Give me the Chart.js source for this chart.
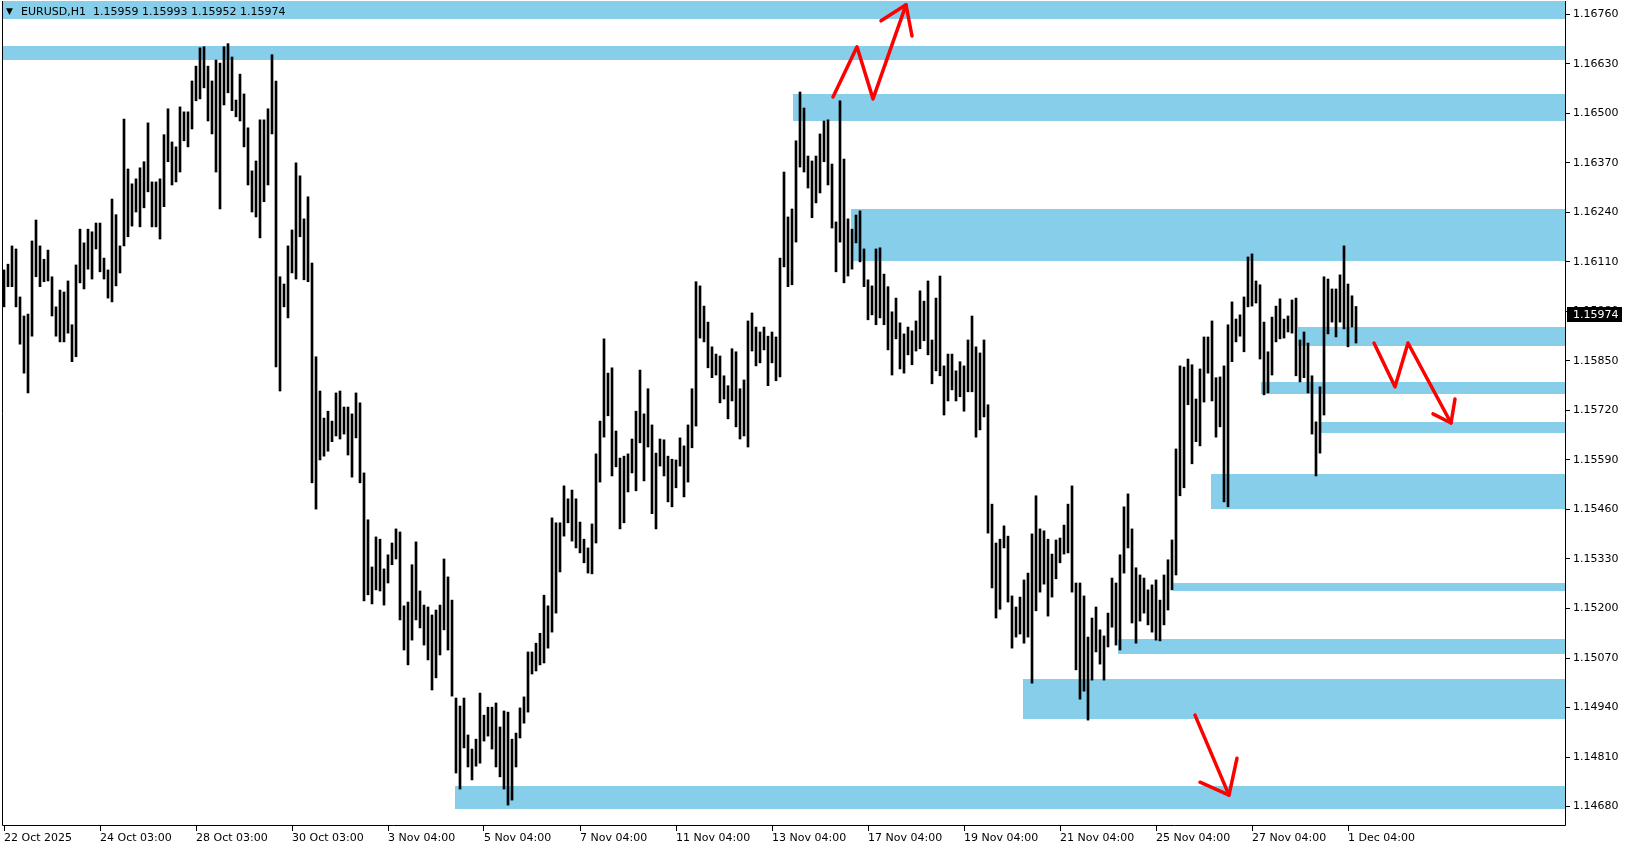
<!DOCTYPE html>
<html>
<head>
<meta charset="utf-8">
<script src="https://cdn.jsdelivr.net/npm/chart.js@4.4.1/dist/chart.umd.min.js"></script>
<style>
    html, body { margin: 0; padding: 0; background: #ffffff; }
    #wrap { width: 1629px; height: 850px; position: relative; }
</style>
</head>
<body>
<div id="wrap"><canvas id="priceChart"></canvas></div>
<script>
const symbolTitle = 'EURUSD,H1';
const lastBar = [1.15959, 1.15993, 1.15952, 1.15974]; // open, high, low, close

// one entry per two H1 bars, 22 Oct 2025 -> 1 Dec 2025
const barHigh = [
    1.16089, 1.16104, 1.16152, 1.16144, 1.16018, 1.15968, 1.15973, 1.16165, 1.16220, 1.16152,
    1.16117, 1.16141, 1.16071, 1.15992, 1.16036, 1.16031, 1.16060, 1.15945, 1.16102, 1.16196,
    1.16160, 1.16196, 1.16189, 1.16212, 1.16212, 1.16120, 1.16089, 1.16275, 1.16234, 1.16152,
    1.16485, 1.16354, 1.16315, 1.16328, 1.16357, 1.16373, 1.16475, 1.16320, 1.16320, 1.16328,
    1.16444, 1.16512, 1.16425, 1.16412, 1.16517, 1.16504, 1.16504, 1.16585, 1.16624, 1.16672,
    1.16675, 1.16624, 1.16585, 1.16640, 1.16632, 1.16675, 1.16683, 1.16648, 1.16535, 1.16603,
    1.16551, 1.16462, 1.16349, 1.16375, 1.16483, 1.16483, 1.16512, 1.16654, 1.16585, 1.16071,
    1.16052, 1.16152, 1.16194, 1.16370, 1.16336, 1.16223, 1.16281, 1.16107, 1.15861, 1.15771,
    1.15700, 1.15718, 1.15692, 1.15766, 1.15771, 1.15729, 1.15729, 1.15711, 1.15766, 1.15740,
    1.15556, 1.15433, 1.15309, 1.15388, 1.15382, 1.15304, 1.15341, 1.15372, 1.15409, 1.15401,
    1.15207, 1.15217, 1.15315, 1.15375, 1.15246, 1.15209, 1.15204, 1.15183, 1.15196, 1.15209,
    1.15330, 1.15283, 1.15222, 1.14965, 1.14944, 1.14965, 1.14868, 1.14831, 1.14857, 1.14978,
    1.14920, 1.14941, 1.14941, 1.14952, 1.14889, 1.14931, 1.14928, 1.14857, 1.14873, 1.14939,
    1.14968, 1.15086, 1.15086, 1.15109, 1.15135, 1.15235, 1.15207, 1.15438, 1.15425, 1.15425,
    1.15522, 1.15488, 1.15511, 1.15488, 1.15427, 1.15382, 1.15359, 1.15422, 1.15606, 1.15692,
    1.15908, 1.15818, 1.15832, 1.15666, 1.15595, 1.15600, 1.15606, 1.15645, 1.15718, 1.15826,
    1.15711, 1.15777, 1.15682, 1.15608, 1.15645, 1.15643, 1.15600, 1.15592, 1.15590, 1.15648,
    1.15627, 1.15682, 1.15777, 1.16058, 1.16047, 1.15994, 1.15952, 1.15887, 1.15868, 1.15863,
    1.15811, 1.15785, 1.15882, 1.15874, 1.15777, 1.15800, 1.15955, 1.15976, 1.15939, 1.15926,
    1.15939, 1.15915, 1.15926, 1.15913, 1.16120, 1.16346, 1.16228, 1.16249, 1.16428, 1.16556,
    1.16514, 1.16388, 1.16375, 1.16388, 1.16446, 1.16480, 1.16483, 1.16367, 1.16215, 1.16533,
    1.16380, 1.16223, 1.16196, 1.16233, 1.16244, 1.16144, 1.16063, 1.16047, 1.16144, 1.16147,
    1.16078, 1.16045, 1.15979, 1.16015, 1.15950, 1.15921, 1.15939, 1.15929, 1.15955, 1.16034,
    1.16007, 1.16060, 1.15905, 1.16015, 1.16073, 1.15837, 1.15868, 1.15868, 1.15824, 1.15848,
    1.15837, 1.15905, 1.15968, 1.15887, 1.15871, 1.15905, 1.15735, 1.15474, 1.15372, 1.15382,
    1.15417, 1.15390, 1.15233, 1.15204, 1.15230, 1.15275, 1.15293, 1.15396, 1.15496, 1.15409,
    1.15404, 1.15382, 1.15343, 1.15380, 1.15385, 1.15419, 1.15474, 1.15522, 1.15267, 1.15267,
    1.15233, 1.15125, 1.15175, 1.15204, 1.15144, 1.15128, 1.15188, 1.15280, 1.15267, 1.15341,
    1.15467, 1.15501, 1.15409, 1.15307, 1.15288, 1.15280, 1.15249, 1.15262, 1.15275, 1.15222,
    1.15288, 1.15328, 1.15380, 1.15619, 1.15837, 1.15834, 1.15855, 1.15840, 1.15750, 1.15829,
    1.15913, 1.15913, 1.15955, 1.15806, 1.15808, 1.15837, 1.15945, 1.16005, 1.15960, 1.15971,
    1.16018, 1.16123, 1.16131, 1.16060, 1.16050, 1.15952, 1.15874, 1.15965, 1.15994, 1.16013,
    1.15960, 1.15968, 1.16010, 1.16015, 1.15905, 1.15926, 1.15897, 1.15811, 1.15690, 1.15782,
    1.16071, 1.16065, 1.16039, 1.16039, 1.16076, 1.16152, 1.16052, 1.16021, 1.15993
];

const barLow = [
    1.15992, 1.16045, 1.16045, 1.15992, 1.15894, 1.15818, 1.15766, 1.15915, 1.16071, 1.16045,
    1.16058, 1.16060, 1.15968, 1.15915, 1.15900, 1.15900, 1.15923, 1.15848, 1.15861, 1.16055,
    1.16039, 1.16091, 1.16065, 1.16144, 1.16084, 1.16065, 1.16015, 1.16005, 1.16047, 1.16081,
    1.16152, 1.16176, 1.16204, 1.16241, 1.16202, 1.16252, 1.16294, 1.16202, 1.16202, 1.16170,
    1.16255, 1.16373, 1.16312, 1.16320, 1.16346, 1.16428, 1.16412, 1.16459, 1.16533, 1.16538,
    1.16567, 1.16480, 1.16446, 1.16346, 1.16249, 1.16522, 1.16554, 1.16507, 1.16491, 1.16480,
    1.16412, 1.16312, 1.16241, 1.16228, 1.16173, 1.16268, 1.16312, 1.16446, 1.15834, 1.15771,
    1.15992, 1.15963, 1.16081, 1.16065, 1.16176, 1.16063, 1.16058, 1.15530, 1.15461, 1.15590,
    1.15600, 1.15613, 1.15638, 1.15653, 1.15645, 1.15658, 1.15603, 1.15545, 1.15648, 1.15530,
    1.15220, 1.15236, 1.15212, 1.15249, 1.15246, 1.15209, 1.15267, 1.15315, 1.15330, 1.15170,
    1.15091, 1.15052, 1.15117, 1.15170, 1.15149, 1.15104, 1.15065, 1.14986, 1.15018, 1.15078,
    1.15144, 1.15091, 1.14970, 1.14768, 1.14726, 1.14834, 1.14784, 1.14750, 1.14786, 1.14794,
    1.14852, 1.14865, 1.14831, 1.14784, 1.14758, 1.14726, 1.14684, 1.14697, 1.14784, 1.14860,
    1.14899, 1.14928, 1.15028, 1.15036, 1.15052, 1.15057, 1.15096, 1.15138, 1.15188, 1.15296,
    1.15390, 1.15425, 1.15377, 1.15359, 1.15346, 1.15320, 1.15293, 1.15291, 1.15372, 1.15532,
    1.15650, 1.15706, 1.15548, 1.15572, 1.15409, 1.15425, 1.15506, 1.15556, 1.15509, 1.15635,
    1.15535, 1.15624, 1.15449, 1.15409, 1.15574, 1.15548, 1.15480, 1.15467, 1.15517, 1.15574,
    1.15493, 1.15532, 1.15622, 1.15679, 1.15910, 1.15900, 1.15832, 1.15806, 1.15813, 1.15740,
    1.15750, 1.15698, 1.15745, 1.15677, 1.15645, 1.15653, 1.15624, 1.15876, 1.15837, 1.15845,
    1.15879, 1.15785, 1.15845, 1.15798, 1.15808, 1.16097, 1.16045, 1.16050, 1.16162, 1.16359,
    1.16346, 1.16304, 1.16226, 1.16265, 1.16291, 1.16373, 1.16312, 1.16199, 1.16084, 1.16162,
    1.16055, 1.16073, 1.16091, 1.16160, 1.16110, 1.16045, 1.15958, 1.15971, 1.15945, 1.15963,
    1.15945, 1.15879, 1.15813, 1.15908, 1.15829, 1.15818, 1.15866, 1.15840, 1.15876, 1.15882,
    1.15903, 1.15866, 1.15790, 1.15824, 1.15811, 1.15708, 1.15745, 1.15774, 1.15745, 1.15756,
    1.15718, 1.15769, 1.15769, 1.15650, 1.15669, 1.15703, 1.15398, 1.15254, 1.15175, 1.15198,
    1.15359, 1.15217, 1.15096, 1.15125, 1.15133, 1.15109, 1.15125, 1.15004, 1.15194, 1.15243,
    1.15264, 1.15180, 1.15230, 1.15278, 1.15320, 1.15343, 1.15346, 1.15243, 1.15039, 1.14962,
    1.14983, 1.14907, 1.15012, 1.15086, 1.15054, 1.15012, 1.15099, 1.15151, 1.15104, 1.15091,
    1.15293, 1.15359, 1.15162, 1.15109, 1.15167, 1.15188, 1.15157, 1.15138, 1.15117, 1.15115,
    1.15157, 1.15196, 1.15249, 1.15288, 1.15496, 1.15517, 1.15735, 1.15580, 1.15638, 1.15627,
    1.15742, 1.15818, 1.15745, 1.15650, 1.15677, 1.15480, 1.15467, 1.15848, 1.15900, 1.15915,
    1.15874, 1.15992, 1.15994, 1.16002, 1.15855, 1.15761, 1.15766, 1.15813, 1.15900, 1.15908,
    1.15910, 1.15926, 1.15923, 1.15811, 1.15795, 1.15806, 1.15766, 1.15658, 1.15548, 1.15608,
    1.15708, 1.15921, 1.15952, 1.15913, 1.15952, 1.15934, 1.15887, 1.15939, 1.15897
];

const timeLabels = [
    '22 Oct 2025', '24 Oct 03:00', '28 Oct 03:00', '30 Oct 03:00', '3 Nov 04:00',
    '5 Nov 04:00', '7 Nov 04:00', '11 Nov 04:00', '13 Nov 04:00', '17 Nov 04:00',
    '19 Nov 04:00', '21 Nov 04:00', '25 Nov 04:00', '27 Nov 04:00', '1 Dec 04:00'
];
const labelStep = 24;     // slots between time labels
const slotCount = 391;    // bar slots incl. empty space on the right

const priceTicks = [
    1.14680, 1.14810, 1.14940, 1.15070, 1.15200, 1.15330, 1.15460, 1.15590, 1.15720,
    1.15850, 1.15980, 1.16110, 1.16240, 1.16370, 1.16500, 1.16630, 1.16760
];
const priceMin = 1.14629;
const priceMax = 1.16795;

// support / resistance zones: start slot, top price, bottom price
const zoneStart  = [-2, -2, 197.25, 211.75, 323.5, 314.25, 328.75, 301.75, 292.25, 278.5, 254.75, 112.75];
const zoneTop    = [1.16800, 1.16677, 1.16550, 1.16249, 1.15939, 1.15795, 1.15690, 1.15553, 1.15267, 1.15120, 1.15015, 1.14734];
const zoneBottom = [1.16748, 1.16640, 1.16479, 1.16113, 1.15889, 1.15763, 1.15661, 1.15461, 1.15246, 1.15081, 1.14910, 1.14673];

// hand drawn arrows, [slot, price]
const arrowUp = [[207.25, 1.16543], [213.25, 1.16675], [217.25, 1.16538], [225.5, 1.16785]];
const arrowUpHead = [[219.25, 1.16743], [225.5, 1.16785], [227, 1.16703]];
const arrowRight = [[342.5, 1.15897], [347.75, 1.15782], [351, 1.15897], [361.75, 1.15687]];
const arrowRightHead = [[357.25, 1.15711], [361.75, 1.15687], [362.75, 1.15750]];
const arrowDown = [[297.75, 1.14920], [306.25, 1.14710]];
const arrowDownHead = [[299, 1.14744], [306.25, 1.14710], [308.25, 1.14807]];

const axisFont = { size: 11, family: "'DejaVu Sans', sans-serif" };

const slotLabels = Array.from({ length: slotCount }, (_, i) =>
    (i % labelStep === 0 && timeLabels[i / labelStep]) || '');

const zonesPlugin = {
    id: 'zones',
    beforeDatasetsDraw(chart) {
        const { ctx, chartArea: a, scales: { x, y } } = chart;
        ctx.save();
        ctx.beginPath();
        ctx.rect(a.left, a.top, a.width, a.height);
        ctx.clip();
        ctx.fillStyle = '#87ceeb';
        zoneStart.forEach((s, k) => {
            const x0 = Math.round(x.getPixelForValue(s));
            const y0 = Math.round(y.getPixelForValue(zoneTop[k]));
            const y1 = Math.round(y.getPixelForValue(zoneBottom[k]));
            ctx.fillRect(x0, y0, a.right - x0, y1 - y0);
        });
        ctx.restore();
    }
};

const overlayPlugin = {
    id: 'overlay',
    afterDatasetsDraw(chart) {
        const { ctx, scales: { x, y } } = chart;

        // red arrows
        ctx.save();
        ctx.strokeStyle = '#ff0000';
        ctx.lineWidth = 3.5;
        ctx.lineJoin = 'round';
        ctx.lineCap = 'round';
        [arrowUp, arrowUpHead, arrowRight, arrowRightHead, arrowDown, arrowDownHead].forEach(line => {
            ctx.beginPath();
            line.forEach(([s, p], n) => {
                const px = x.getPixelForValue(s);
                const py = y.getPixelForValue(p);
                if (n === 0) ctx.moveTo(px, py); else ctx.lineTo(px, py);
            });
            ctx.stroke();
        });
        ctx.restore();
    },
    afterDraw(chart) {
        const { ctx, chartArea: a, scales: { y } } = chart;
        ctx.save();

        // frame
        ctx.strokeStyle = '#000';
        ctx.lineWidth = 1;
        ctx.beginPath();
        ctx.moveTo(a.left + 0.5, a.top);
        ctx.lineTo(a.left + 0.5, a.bottom - 0.5);
        ctx.lineTo(a.right - 0.5, a.bottom - 0.5);
        ctx.lineTo(a.right - 0.5, a.top);
        ctx.stroke();

        // header
        ctx.fillStyle = '#000';
        ctx.textBaseline = 'middle';
        ctx.font = "9px 'DejaVu Sans'";
        ctx.fillText('▼', 6, 12);
        ctx.font = "11px 'DejaVu Sans', sans-serif";
        ctx.fillText(symbolTitle, 21, 12);
        ctx.fillText(lastBar.map(v => v.toFixed(5)).join(' '), 93, 12);

        // current price box
        const py = Math.round(y.getPixelForValue(lastBar[3]));
        ctx.fillStyle = '#000';
        ctx.fillRect(a.right + 1, py - 7, 55, 15);
        ctx.fillStyle = '#fff';
        ctx.fillText(lastBar[3].toFixed(5), a.right + 7, py + 1);
        ctx.restore();
    }
};

new Chart(document.getElementById('priceChart'), {
    type: 'bar',
    data: {
        labels: slotLabels,
        datasets: [{
            label: symbolTitle,
            data: barLow.map((lo, i) => [lo, barHigh[i]]),
            backgroundColor: '#000000',
            borderWidth: 0,
            borderSkipped: false,
            barThickness: 2
        }]
    },
    options: {
        responsive: true,
        maintainAspectRatio: false,
        animation: false,
        events: [],
        layout: {
            padding: { left: 2, top: 1, right: 0, bottom: 0 }
        },
        plugins: {
            legend: { display: false },
            tooltip: { enabled: false }
        },
        scales: {
            x: {
                type: 'category',
                offset: true,
                grid: {
                    drawOnChartArea: false,
                    drawTicks: true,
                    tickLength: 5,
                    color: '#000',
                    offset: false
                },
                border: { display: false },
                ticks: {
                    autoSkip: false,
                    maxRotation: 0,
                    minRotation: 0,
                    align: 'start',
                    color: '#000',
                    padding: 1,
                    font: axisFont
                },
                afterBuildTicks: axis => {
                    axis.ticks = axis.ticks.filter(t => t.value % labelStep === 0 && t.value / labelStep < timeLabels.length);
                },
                afterFit: axis => {
                    axis.height = 24;
                    axis.paddingLeft = 0;
                    axis.paddingRight = 0;
                }
            },
            y: {
                type: 'linear',
                position: 'right',
                min: priceMin,
                max: priceMax,
                grid: {
                    drawOnChartArea: false,
                    tickLength: 4,
                    color: '#000'
                },
                border: { display: false },
                ticks: {
                    color: '#000',
                    padding: 3,
                    font: axisFont,
                    callback: value => value.toFixed(5)
                },
                afterBuildTicks: axis => {
                    axis.ticks = priceTicks.map(v => ({ value: v }));
                },
                afterFit: axis => {
                    axis.width = 63;
                    axis.paddingTop = 0;
                    axis.paddingBottom = 0;
                }
            }
        }
    },
    plugins: [zonesPlugin, overlayPlugin]
});
</script>
</body>
</html>
